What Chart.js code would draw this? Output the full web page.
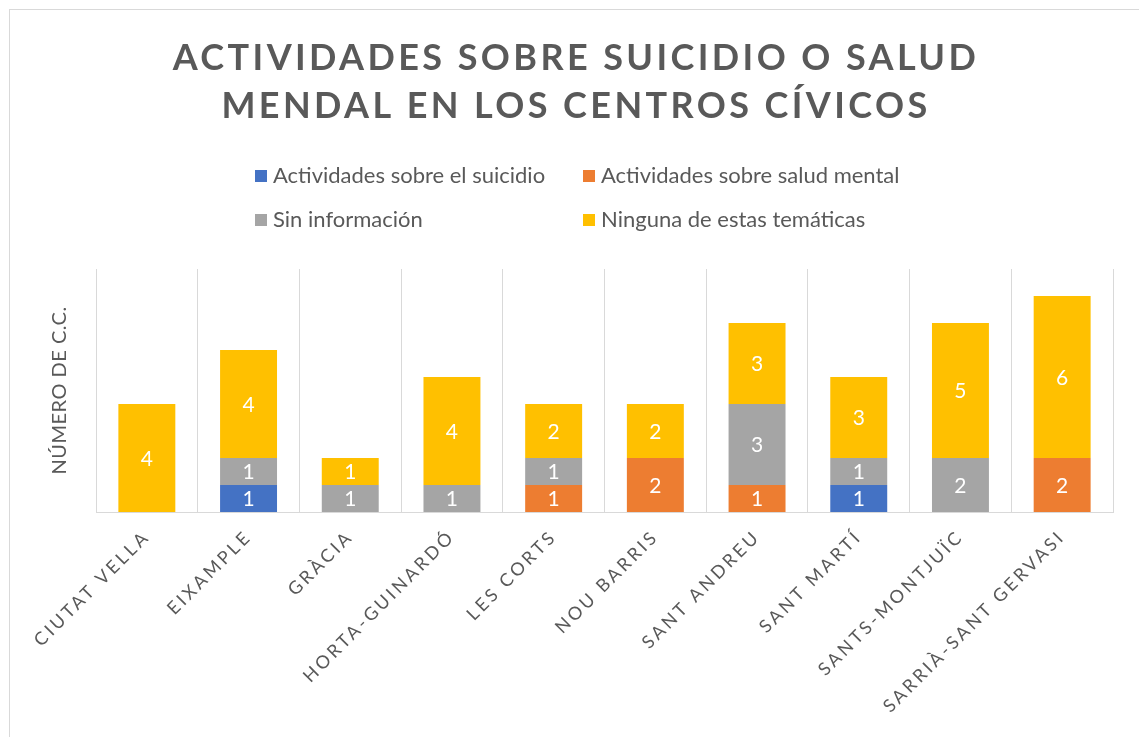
<!DOCTYPE html>
<html>
<head>
<meta charset="utf-8">
<script src="https://cdn.jsdelivr.net/npm/chart.js@4.4.1/dist/chart.umd.min.js"></script>
<style>
  html, body { margin: 0; padding: 0; background: #fff; overflow: hidden; }
  #frame { position: absolute; left: 9px; top: 9px; width: 1200px; height: 800px; border: 1px solid #D9D9D9; }
  #chart { position: absolute; left: 0; top: 0; }
</style>
</head>
<body>
<div id="frame"></div>
<canvas id="chart" width="1139" height="737"></canvas>
<script>
/* ---------- Data ---------- */
const titleLines = ['ACTIVIDADES SOBRE SUICIDIO O SALUD', 'MENDAL EN LOS CENTROS CÍVICOS'];
const yTitle = 'NÚMERO DE C.C.';
const categories = ['CIUTAT VELLA', 'EIXAMPLE', 'GRÀCIA', 'HORTA-GUINARDÓ', 'LES CORTS',
  'NOU BARRIS', 'SANT ANDREU', 'SANT MARTÍ', 'SANTS-MONTJUÏC', 'SARRIÀ-SANT GERVASI'];
const seriesNames = ['Actividades sobre el suicidio', 'Actividades sobre salud mental',
  'Sin información', 'Ninguna de estas temáticas'];
const suicidio    = [0, 1, 0, 0, 0, 0, 0, 1, 0, 0];
const saludMental = [0, 0, 0, 0, 1, 2, 1, 0, 0, 2];
const sinInfo     = [0, 1, 1, 1, 1, 0, 3, 1, 2, 0];
const ninguna     = [4, 4, 1, 4, 2, 2, 3, 3, 5, 6];
const colors = ['#4472C4', '#ED7D31', '#A5A5A5', '#FFC000'];

const FONT = "Lato, 'Open Sans', sans-serif";
const GREY = '#595959';

/* ---------- Plugins ---------- */
// letter spacing for axis labels only
const spacing = {
  id: 'spacing',
  beforeDraw(chart) { chart.ctx.letterSpacing = '3px'; },
  beforeDatasetsDraw(chart) { chart.ctx.letterSpacing = '0px'; }
};

// white value labels centred in each segment
const valueLabels = {
  id: 'valueLabels',
  afterDatasetsDraw(chart) {
    const ctx = chart.ctx;
    ctx.save();
    ctx.font = '21px ' + FONT;
    ctx.fillStyle = '#fff';
    ctx.textAlign = 'center';
    ctx.textBaseline = 'middle';
    chart.data.datasets.forEach((ds, di) => {
      chart.getDatasetMeta(di).data.forEach((bar, i) => {
        const v = ds.data[i];
        if (!v) return;
        ctx.fillText(String(v), bar.x, (bar.y + bar.base) / 2 + 1);
      });
    });
    ctx.restore();
  }
};

// title, legend and y-axis title
const decorations = {
  id: 'decorations',
  afterDraw(chart) {
    const ctx = chart.ctx;
    const area = chart.chartArea;
    ctx.save();

    // title
    ctx.fillStyle = GREY;
    ctx.font = 'bold 36px ' + FONT;
    ctx.letterSpacing = '3.4px';
    ctx.textAlign = 'center';
    ctx.textBaseline = 'alphabetic';
    titleLines.forEach((line, i) => ctx.fillText(line, 576, 70 + i * 48));

    // legend (2 x 2)
    ctx.letterSpacing = '0px';
    ctx.font = '22px ' + FONT;
    ctx.textAlign = 'left';
    ctx.textBaseline = 'middle';
    const cols = [255, 583];
    const rows = [176, 220];
    chart.data.datasets.forEach((ds, i) => {
      const x = cols[i % 2];
      const y = rows[Math.floor(i / 2)];
      ctx.fillStyle = ds.backgroundColor;
      ctx.fillRect(x, y - 6, 12, 12);
      ctx.fillStyle = GREY;
      ctx.fillText(ds.label, x + 18, y);
    });

    // y-axis title
    ctx.translate(60, (area.top + area.bottom) / 2);
    ctx.rotate(-Math.PI / 2);
    ctx.font = '20px ' + FONT;
    ctx.letterSpacing = '0.5px';
    ctx.textAlign = 'center';
    ctx.fillText(yTitle, 0, 0);
    ctx.restore();
  }
};

/* ---------- Chart ---------- */
const datasets = [suicidio, saludMental, sinInfo, ninguna].map((d, i) => ({
  label: seriesNames[i],
  data: d,
  backgroundColor: colors[i],
  borderWidth: 0,
  categoryPercentage: 1,
  barPercentage: 0.56
}));

new Chart(document.getElementById('chart'), {
  type: 'bar',
  data: { labels: categories, datasets },
  plugins: [spacing, valueLabels, decorations],
  options: {
    responsive: false,
    animation: false,
    layout: { padding: { top: 269, right: 26, bottom: 0, left: 96 } },
    plugins: {
      legend: { display: false },
      title: { display: false },
      tooltip: { enabled: false }
    },
    scales: {
      x: {
        stacked: true,
        grid: { color: '#D9D9D9', lineWidth: 1, drawTicks: false, offset: true },
        border: { display: true, color: '#D9D9D9', width: 1 },
        ticks: {
          autoSkip: false,
          minRotation: 45,
          maxRotation: 45,
          padding: 14,
          color: GREY,
          font: { family: FONT, size: 18 }
        },
        afterFit(scale) { scale.height = 225; }
      },
      y: {
        stacked: true,
        display: false,
        min: 0,
        max: 9
      }
    }
  }
});
</script>
</body>
</html>
